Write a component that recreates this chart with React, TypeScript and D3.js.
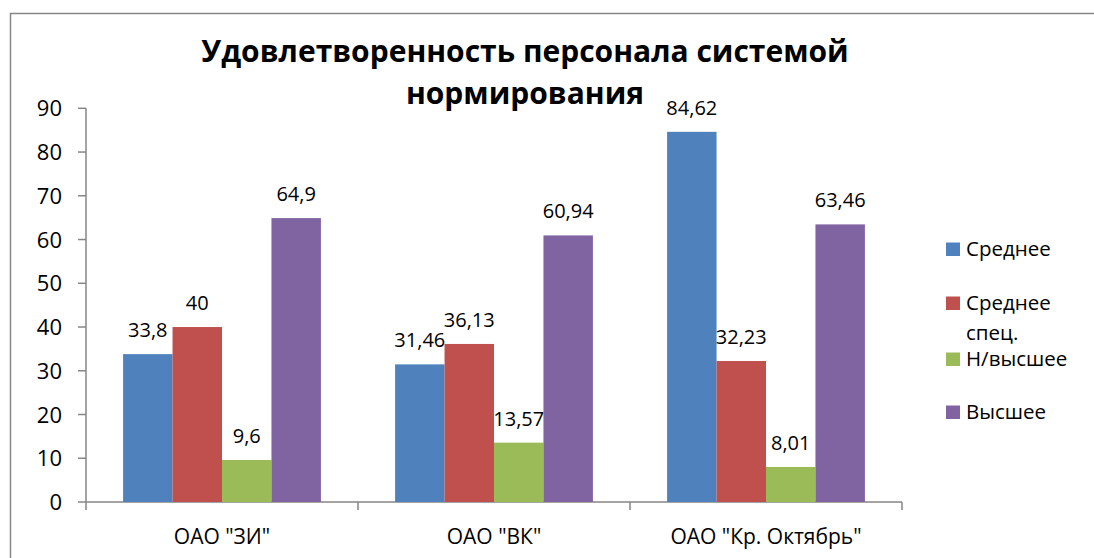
import React from "react";
import * as d3 from "d3";

const categories = ['ОАО "ЗИ"', 'ОАО "ВК"', 'ОАО "Кр. Октябрь"'];
const seriesNames = ["Среднее", "Среднее спец.", "Н/высшее", "Высшее"];
const seriesColors = ["#4F81BD", "#C0504D", "#9BBB59", "#8064A2"];
const srednee = [33.8, 31.46, 84.62];
const sredneeSpec = [40, 36.13, 32.23];
const nVysshee = [9.6, 13.57, 8.01];
const vysshee = [64.9, 60.94, 63.46];
const yTicks = [0, 10, 20, 30, 40, 50, 60, 70, 80, 90];
const titleLines = ["Удовлетворенность персонала системой", "нормирования"];

const values = [srednee, sredneeSpec, nVysshee, vysshee];
const font = "'Open Sans', sans-serif";
const axisColor = "#868686";

const App = () => {
  const width = 1094;
  const height = 558;
  const left = 86;
  const right = 902;
  const top = 108.3;
  const bottom = 502;

  const y = d3.scaleLinear().domain([0, 90]).range([bottom, top]);
  const x0 = d3.scaleBand().domain(categories).range([left, right]).paddingInner(0).paddingOuter(0);
  const x1 = d3
    .scaleBand()
    .domain(seriesNames)
    .range([0, x0.bandwidth()])
    .paddingOuter(0.75)
    .paddingInner(0);

  const fmt = (v: number) => String(v).replace(".", ",");

  // legend rows: text baseline positions
  const legendRows = [
    { name: seriesNames[0], lines: ["Среднее"], y: 256 },
    { name: seriesNames[1], lines: ["Среднее", "спец."], y: 310 },
    { name: seriesNames[2], lines: ["Н/высшее"], y: 366 },
    { name: seriesNames[3], lines: ["Высшее"], y: 419 },
  ];

  return (
    <div style={{ position: "absolute", left: 0, top: 0 }}>
      <svg width={width} height={height} style={{ display: "block" }}>
        <rect x={0} y={0} width={width} height={height} fill="#fff" />
        <rect x={10.5} y={13.5} width={1200} height={700} fill="#fff" stroke={axisColor} strokeWidth={1.5} />

        {titleLines.map((t, i) => (
          <text
            key={t}
            x={525}
            y={62 + i * 42}
            textAnchor="middle"
            fontFamily={font}
            fontWeight="bold"
            fontSize={30}
            fill="#000"
          >
            {t}
          </text>
        ))}

        {/* y axis */}
        <line x1={left} x2={left} y1={top} y2={bottom} stroke={axisColor} strokeWidth={1.5} />
        {yTicks.map((t) => (
          <g key={t}>
            <line x1={left - 8} x2={left} y1={y(t)} y2={y(t)} stroke={axisColor} strokeWidth={1.5} />
            <text x={62} y={y(t) + 8} textAnchor="end" fontFamily={font} fontSize={22} fill="#000">
              {t}
            </text>
          </g>
        ))}

        {/* x axis */}
        <line x1={left} x2={right} y1={bottom} y2={bottom} stroke={axisColor} strokeWidth={1.5} />
        {[...categories.map((c) => x0(c) as number), right].map((px, i) => (
          <line key={i} x1={px} x2={px} y1={bottom} y2={bottom + 8} stroke={axisColor} strokeWidth={1.5} />
        ))}
        {categories.map((c) => (
          <text
            key={c}
            x={(x0(c) as number) + x0.bandwidth() / 2}
            y={544}
            textAnchor="middle"
            fontFamily={font}
            fontSize={21}
            fill="#000"
          >
            {c}
          </text>
        ))}

        {/* bars */}
        {seriesNames.map((s, si) =>
          categories.map((c, ci) => {
            const v = values[si][ci];
            const bx = (x0(c) as number) + (x1(s) as number);
            return (
              <g key={s + c}>
                <rect
                  x={bx}
                  y={y(v)}
                  width={x1.bandwidth()}
                  height={bottom - y(v)}
                  fill={seriesColors[si]}
                />
                <text
                  x={bx + x1.bandwidth() / 2}
                  y={y(v) - 17}
                  textAnchor="middle"
                  fontFamily={font}
                  fontSize={20}
                  fill="#000"
                >
                  {fmt(v)}
                </text>
              </g>
            );
          })
        )}

        {/* legend */}
        {legendRows.map((r, i) => (
          <g key={r.name}>
            <rect x={946} y={r.y - 13.5} width={14} height={13.5} fill={seriesColors[i]} />
            {r.lines.map((ln, li) => (
              <text key={ln} x={966} y={r.y + li * 30} fontFamily={font} fontSize={20.5} fill="#000">
                {ln}
              </text>
            ))}
          </g>
        ))}
      </svg>
    </div>
  );
};

export default App;
